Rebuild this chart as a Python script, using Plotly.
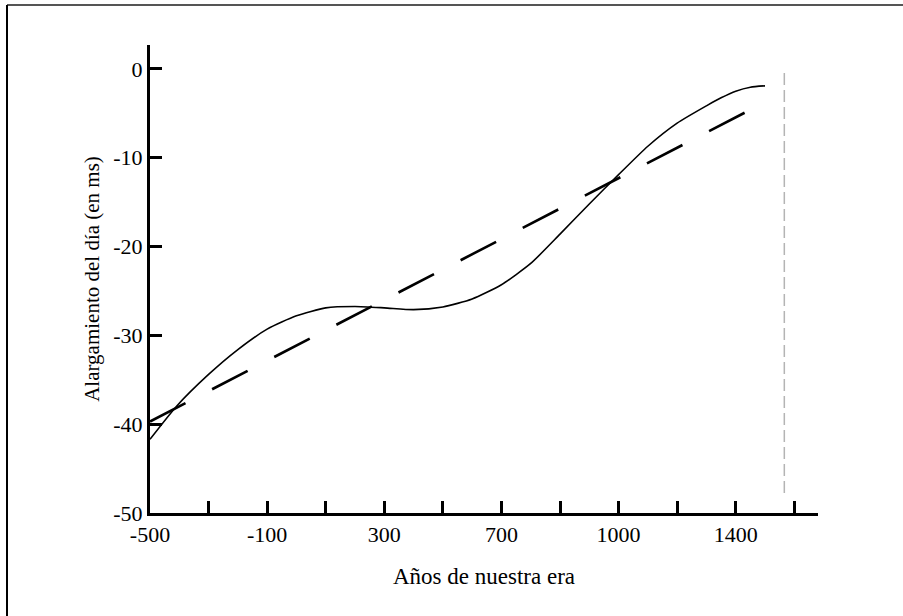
import plotly.graph_objects as go

# Day-length change over the last two and a half millennia
years = [-500, -410, -300, -200, -100, 0, 100, 200, 300, 400, 500, 600,
         700, 800, 900, 1000, 1100, 1200, 1300, 1400, 1450, 1500, 1550, 1600]
lengthening_ms = [-41.7, -38.0, -34.4, -31.6, -29.3, -27.8, -26.9, -26.75,
                  -26.9, -27.1, -26.8, -25.9, -24.3, -21.9, -18.6, -15.2,
                  -11.9, -8.7, -6.1, -4.15, -3.25, -2.5, -2.05, -1.9]

# Linear trend
trend_years = [-500, 1532]
trend_ms = [-39.7, -4.9]

# Vertical reference marker
ref_year = [1666, 1666]
ref_ms = [-0.45, -48.3]

x_tickvals = [-500, -300, -100, 100, 300, 500, 700, 900, 1100, 1300, 1500, 1700]
x_ticktext = ["-500", "", "-100", "", "300", "", "700", "", "1000", "", "1400", ""]
y_tickvals = [0, -10, -20, -30, -40, -50]
y_ticktext = ["0", "-10", "-20", "-30", "-40", "-50"]

W, H = 903, 616
ML, MR, MT, MB = 150, 85, 45, 103
FONT = "Liberation Serif, Times New Roman, serif"

fig = go.Figure()
fig.add_trace(go.Scatter(
    x=ref_year, y=ref_ms, mode="lines",
    line=dict(color="#b4b4b4", width=1.5, dash="12px,5px"),
    hoverinfo="skip", showlegend=False))
fig.add_trace(go.Scatter(
    x=trend_years, y=trend_ms, mode="lines",
    line=dict(color="black", width=2.6, dash="40px,30px"),
    showlegend=False))
fig.add_trace(go.Scatter(
    x=years, y=lengthening_ms, mode="lines",
    line=dict(color="black", width=1.6, shape="spline", smoothing=0.6),
    showlegend=False))

pw = W - ML - MR
ph = H - MT - MB


def px_to_paper_x(px):
    return (px - ML) / pw


def px_to_paper_y(py):
    return (H - MB - py) / ph


# Frame lines along the top and left of the page
fig.add_shape(type="line", xref="paper", yref="paper",
              x0=px_to_paper_x(7), x1=px_to_paper_x(W + 2),
              y0=px_to_paper_y(5), y1=px_to_paper_y(5),
              line=dict(color="#555555", width=2))
fig.add_shape(type="line", xref="paper", yref="paper",
              x0=px_to_paper_x(7), x1=px_to_paper_x(7),
              y0=px_to_paper_y(5), y1=px_to_paper_y(H + 2),
              line=dict(color="black", width=2))

fig.update_layout(
    width=W, height=H,
    margin=dict(l=ML, r=MR, t=MT, b=MB, autoexpand=False),
    paper_bgcolor="white", plot_bgcolor="white",
    font=dict(family=FONT, size=22, color="black"),
    xaxis=dict(
        range=[-500, 1781], showgrid=False, zeroline=False,
        showline=True, linecolor="black", linewidth=3,
        ticks="inside", ticklen=12, tickwidth=3, tickcolor="black",
        tickmode="array", tickvals=x_tickvals, ticktext=x_ticktext,
        tickfont=dict(family=FONT, size=22),
        title=dict(text="Años de nuestra era", standoff=22,
                   font=dict(family=FONT, size=23)),
    ),
    yaxis=dict(
        range=[-50, 2.7], showgrid=False, zeroline=False,
        showline=True, linecolor="black", linewidth=3,
        ticks="inside", ticklen=12, tickwidth=3, tickcolor="black",
        tickmode="array", tickvals=y_tickvals, ticktext=y_ticktext,
        tickfont=dict(family=FONT, size=22),
        title=dict(text="Alargamiento del día (en ms)", standoff=8,
                   font=dict(family=FONT, size=21)),
    ),
)

fig.write_html("out.html")
